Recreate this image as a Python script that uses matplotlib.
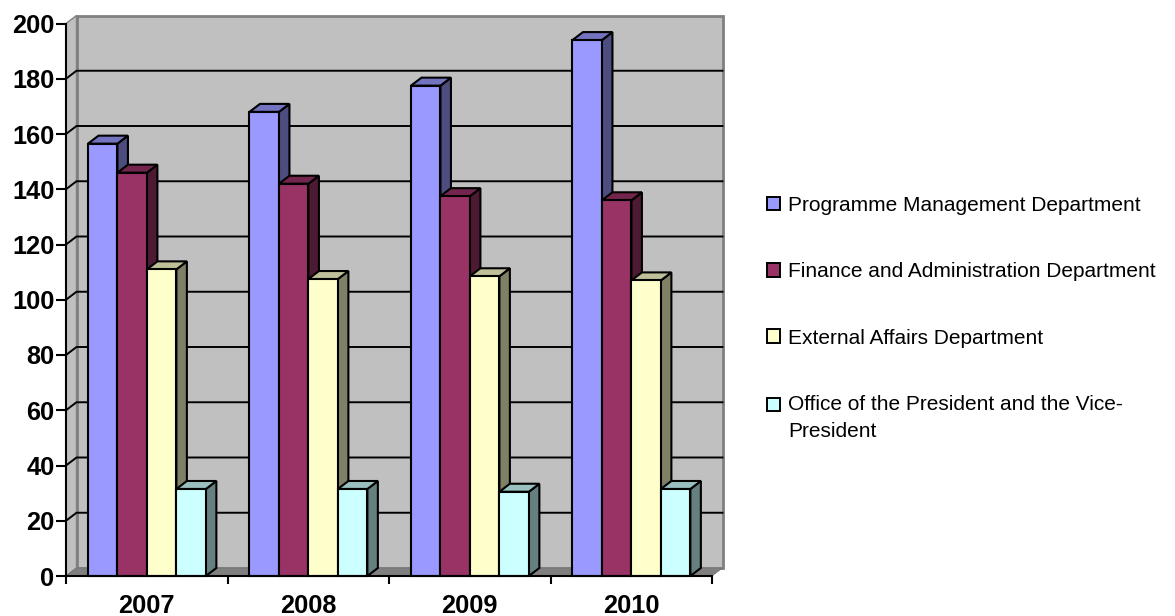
import numpy as np
from matplotlib import pyplot as plt
from matplotlib.patches import Patch, Rectangle
from matplotlib.legend_handler import HandlerPatch

plt.rcParams['font.family'] = ['Liberation Sans', 'DejaVu Sans']

years = ['2007', '2008', '2009', '2010']
programme = [156.5, 168, 177.5, 194]
finance = [146, 142, 137.5, 136]
external = [111, 107.5, 108.5, 107]
office = [31.5, 31.5, 30.5, 31.5]

series_names = ['Programme Management Department',
                'Finance and Administration Department',
                'External Affairs Department',
                'Office of the President and the Vice-\nPresident']
series_values = [programme, finance, external, office]

# front, top, side shade of each series
front_colors = ['#9999FF', '#993366', '#FFFFCC', '#CCFFFF']
top_colors = ['#7373BF', '#73264D', '#BFBF99', '#99BFBF']
side_colors = ['#4D4D80', '#4D1A33', '#808066', '#668080']

y_ticks = list(range(0, 201, 20))

W, H = 1175, 616
fig = plt.figure(figsize=(W / 100, H / 100), dpi=100, facecolor='white')
ax = fig.add_axes([66 / W, 1 - 576 / H, 646 / W, 552.5 / H])
ax.set_xlim(0, 4)
ax.set_ylim(0, 200)
ax.patch.set_visible(False)
ax.set_autoscale_on(False)

# depth of the fake 3d box, in data units
dx = 10.5 / 161.5
dy = 8 / 2.7625
bar_w = 0.1825
group_start = 0.136

# walls and floor
ax.fill([dx, 4 + dx, 4 + dx, dx], [dy, dy, 200 + dy, 200 + dy], facecolor='#C0C0C0',
        edgecolor='#808080', lw=2, clip_on=False, zorder=1)
ax.fill([0, dx, dx, 0], [0, dy, 200 + dy, 200], facecolor='#C0C0C0',
        edgecolor='#808080', lw=1, clip_on=False, zorder=1)
ax.fill([0, 4, 4 + dx, dx], [0, 0, dy, dy], facecolor='#808080',
        edgecolor='#707070', lw=0.5, clip_on=False, zorder=1.5)

for v in y_ticks[1:-1]:
    ax.plot([0, dx, 4 + dx], [v, v + dy, v + dy], color='black', lw=1.4, clip_on=False, zorder=2)

z = 3
for g in range(len(years)):
    for s, vals in enumerate(series_values):
        x0 = g + group_start + s * bar_w
        x1 = x0 + bar_w
        v = vals[g]
        ax.fill([x1, x1 + dx, x1 + dx, x1], [0, dy, v + dy, v], facecolor=side_colors[s],
                edgecolor='black', lw=1.5, clip_on=False, zorder=z)
        ax.fill([x0, x1, x1 + dx, x0 + dx], [v, v, v + dy, v + dy], facecolor=top_colors[s],
                edgecolor='black', lw=1.5, clip_on=False, zorder=z)
        ax.bar(x0, v, width=bar_w, align='edge', color=front_colors[s],
               edgecolor='black', lw=1.5, clip_on=False, zorder=z + 0.5)
        z += 1

for name in ['top', 'right']:
    ax.spines[name].set_visible(False)
for name in ['left', 'bottom']:
    ax.spines[name].set_linewidth(1.5)
    ax.spines[name].set_zorder(100)

ax.set_yticks(y_ticks)
ax.set_xticks(range(5))
ax.set_xticklabels([])
ax.set_xticks(np.arange(len(years)) + 0.5, minor=True)
ax.set_xticklabels(years, minor=True, fontsize=18.3, fontweight='bold')
ax.tick_params(axis='y', labelsize=18.3, length=7.2, width=1.5, pad=1)
for lab in ax.get_yticklabels():
    lab.set_fontweight('bold')
ax.tick_params(axis='x', which='major', length=5.8, width=1.5)
ax.tick_params(axis='x', which='minor', length=0, pad=13)


# legend key for a two line label, sits level with the first line
def raised_box(legend, orig_handle, xdescent, ydescent, width, height, fontsize):
    return Rectangle((-xdescent, -ydescent + 10), width, height)


handles = [Patch(facecolor=c, edgecolor='black', lw=1.4) for c in front_colors]
leg = fig.legend(handles, series_names, loc='upper left', bbox_to_anchor=(767 / W, 1 - 196 / H),
                 frameon=False, fontsize=15, handlelength=0.62, handleheight=0.62,
                 handletextpad=0.38, labelspacing=2.27, borderpad=0, borderaxespad=0,
                 handler_map={handles[3]: HandlerPatch(patch_func=raised_box)})
leg.get_texts()[3].set_linespacing(1.55)

fig.savefig('out.png', dpi=100)
